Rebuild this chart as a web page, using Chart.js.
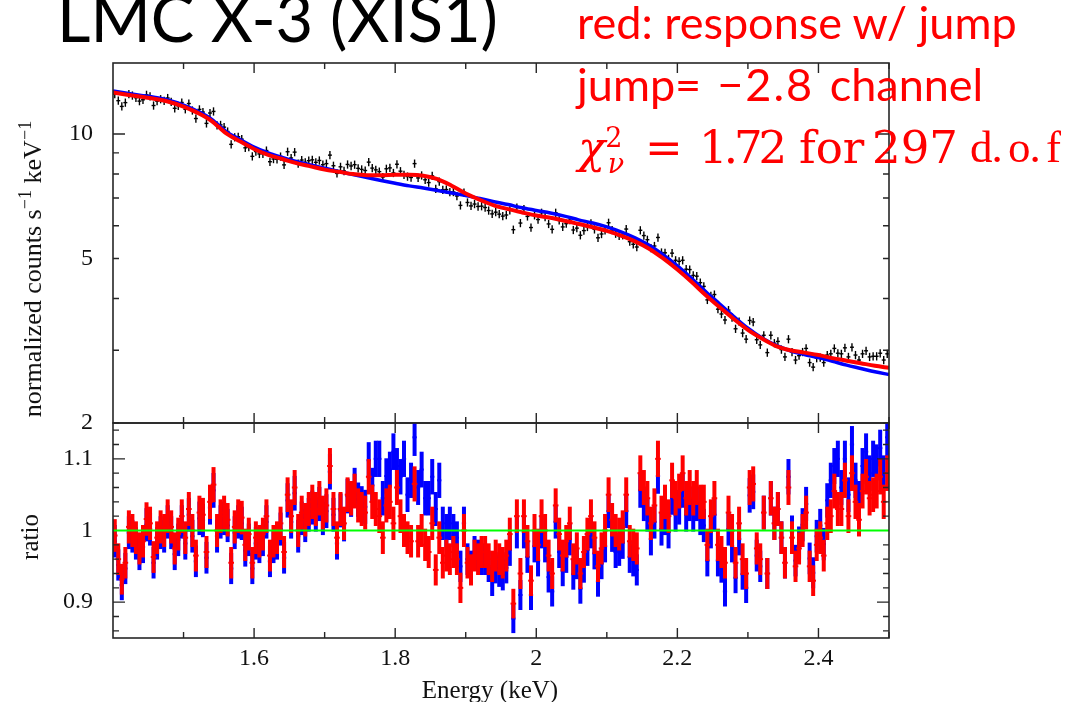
<!DOCTYPE html>
<html>
<head>
<meta charset="utf-8">
<script src="https://cdn.jsdelivr.net/npm/chart.js@4.4.1/dist/chart.umd.min.js"></script>
<style>
  html, body { margin: 0; padding: 0; background: #fff; }
  #wrap { position: relative; width: 1086px; height: 702px; overflow: hidden; background: #fff; }
  canvas { position: absolute; left: 0; }
  .lbl { position: absolute; white-space: nowrap; line-height: 1; }
  .lbl sup, .lbl sub { line-height: 0; }
  .title { left: 57px; top: -22px; font: 65px Lato, sans-serif; color: #000; }
  .note { left: 577px; font: 45px Lato, sans-serif; color: #ff0000; }
  .chi { left: 0; top: 121px; width: 1086px; height: 60px; font: 45px "DejaVu Serif", serif; color: #ff0000; }
  .chi span { position: absolute; top: 0; }
  .axt { font: 25px "Liberation Serif", serif; color: #111; }
  .rot { transform: translate(-50%, -50%) rotate(-90deg); }
</style>
</head>
<body>
<div id="wrap">
  <canvas id="spec" width="1086" height="440" style="top:0"></canvas>
  <canvas id="ratio" width="1086" height="302" style="top:400px"></canvas>

  <div class="lbl title">LMC X-3 (XIS1)</div>
  <div class="lbl note" style="top:-5px">red: response w/ jump</div>
  <div class="lbl note" style="top:57px">jump=<span style="margin-left:16px;margin-right:4px;letter-spacing:2px">−2.8</span> channel</div>
  <div class="lbl chi">
    <span style="left:578px"><i>χ</i><sup style="font-size:0.6em">2</sup><sub style="font-size:0.6em;margin-left:-0.55em"><i>ν</i></sub></span>
    <span style="left:645px">=</span>
    <span style="left:699px; letter-spacing:-4px">1.72</span>
    <span style="left:799px">for</span>
    <span style="left:872px">297</span>
    <span style="left:970px; font:45px 'Liberation Serif', serif; letter-spacing:-1px; word-spacing:-4px">d. o. f</span>
  </div>

  <div class="lbl axt rot" style="left:33px; top:269px; font-size:26px">normalized counts s<sup style="font-size:0.7em">−1</sup> keV<sup style="font-size:0.7em">−1</sup></div>
  <div class="lbl axt rot" style="left:30px; top:537px">ratio</div>
  <div class="lbl axt" style="left:490px; top:676px; transform:translateX(-50%)">Energy (keV)</div>
</div>

<script>
// ── channel grid (bin centres) and model grid ──
const binLo = 1.4, binWidth = 0.005;
const modelLo = 1.4, modelStep = 0.02;
const relErr = 0.023;

// tick labels
const energyTicks = [1.6, 1.8, 2, 2.2, 2.4];
const countTicks = [2, 5, 10];
const ratioTicks = [0.9, 1, 1.1];

// normalized counts s^-1 keV^-1 per channel (black crosses)
const counts = [
  12.49, 12.04, 11.66, 11.91, 12.49, 12.39, 12.24, 12.01, 12.10, 12.44,
  12.33, 11.72, 12.01, 12.14, 12.03, 12.22, 11.97, 11.54, 11.70, 11.92,
  11.48, 11.85, 11.40, 10.90, 11.47, 11.30, 10.61, 11.24, 11.34, 10.49,
  10.52, 10.39, 10.14, 9.44, 9.82, 9.85, 9.72, 9.26, 9.30, 8.83,
  9.07, 8.95, 8.96, 9.12, 8.57, 8.70, 8.69, 8.82, 8.42, 9.06,
  8.75, 9.04, 8.48, 8.65, 8.54, 8.62, 8.66, 8.54, 8.63, 8.43,
  8.48, 8.89, 8.38, 8.03, 8.33, 8.14, 8.44, 8.37, 8.43, 8.26,
  8.21, 8.16, 8.55, 8.27, 8.19, 8.11, 7.87, 8.24, 8.28, 8.05,
  8.45, 8.13, 7.97, 7.89, 7.85, 8.48, 7.83, 7.94, 7.75, 7.63,
  7.92, 7.37, 7.67, 7.33, 7.34, 7.24, 7.24, 7.08, 6.72, 7.22,
  6.83, 6.70, 6.77, 6.68, 6.69, 6.64, 6.53, 6.41, 6.47, 6.40,
  6.33, 6.37, 6.54, 5.87, 6.64, 6.09, 6.58, 6.32, 5.94, 6.36,
  6.21, 6.45, 6.30, 6.06, 5.88, 6.45, 6.18, 5.96, 6.07, 6.19,
  5.86, 5.92, 5.69, 5.84, 5.96, 6.08, 5.88, 5.61, 5.73, 5.85,
  6.10, 5.86, 5.74, 5.67, 5.69, 5.89, 5.49, 5.41, 5.33, 5.85,
  5.68, 5.55, 5.30, 5.36, 5.62, 5.17, 5.16, 4.99, 5.15, 4.95,
  4.92, 4.95, 4.71, 4.70, 4.55, 4.53, 4.37, 4.28, 3.97, 4.06,
  4.09, 3.77, 3.67, 3.55, 3.75, 3.60, 3.38, 3.52, 3.30, 3.19,
  3.54, 3.51, 3.18, 3.09, 3.26, 2.96, 3.26, 3.12, 3.15, 3.01,
  2.89, 3.19, 2.97, 2.84, 2.91, 2.97, 3.03, 2.80, 2.73, 2.87,
  2.88, 2.80, 2.92, 2.94, 3.03, 2.95, 2.94, 3.04, 2.89, 3.05,
  2.92, 2.84, 2.94, 2.99, 2.89, 2.90, 2.90, 2.95, 2.84, 2.94
];

// data / model, response with jump (red)
const ratioRed = [
  0.993, 0.96, 0.932, 0.955, 1.005, 1.0, 0.99, 0.975, 0.985, 1.016,
  1.01, 0.963, 0.99, 1.005, 1.0, 1.02, 1.005, 0.975, 0.995, 1.02,
  0.99, 1.03, 1.0, 0.965, 1.025, 1.022, 0.97, 1.04, 1.064, 1.0,
  1.02, 1.025, 1.015, 0.955, 1.005, 1.02, 1.018, 0.98, 0.995, 0.955,
  0.99, 0.985, 0.995, 1.02, 0.965, 0.985, 0.99, 1.01, 0.97, 1.05,
  1.02, 1.06, 1.0, 1.025, 1.015, 1.03, 1.04, 1.03, 1.045, 1.025,
  1.035, 1.09, 1.03, 0.99, 1.03, 1.01, 1.05, 1.045, 1.055, 1.035,
  1.03, 1.025, 1.075, 1.04, 1.03, 1.02, 0.99, 1.035, 1.04, 1.01,
  1.06, 1.02, 1.0, 0.99, 0.985, 1.065, 0.985, 1.0, 0.98, 0.97,
  1.01, 0.945, 0.99, 0.955, 0.965, 0.96, 0.97, 0.96, 0.92, 1.0,
  0.955, 0.945, 0.965, 0.96, 0.97, 0.97, 0.96, 0.95, 0.965, 0.96,
  0.955, 0.965, 0.995, 0.898, 1.02, 0.94, 1.02, 0.985, 0.93, 1.0,
  0.98, 1.02, 1.0, 0.965, 0.94, 1.035, 0.995, 0.965, 0.985, 1.01,
  0.96, 0.975, 0.94, 0.97, 0.995, 1.02, 0.99, 0.95, 0.975, 1.0,
  1.05, 1.015, 1.0, 0.995, 1.005, 1.05, 0.985, 0.98, 0.975, 1.08,
  1.06, 1.045, 1.01, 1.035, 1.1, 1.025, 1.04, 1.02, 1.07, 1.045,
  1.055, 1.08, 1.045, 1.06, 1.045, 1.06, 1.04, 1.04, 0.98, 1.02,
  1.045, 0.98, 0.97, 0.955, 1.025, 1.0, 0.955, 1.01, 0.96, 0.94,
  1.06, 1.065, 0.975, 0.96, 1.025, 0.94, 1.045, 1.01, 1.03, 0.99,
  0.955, 1.06, 0.99, 0.95, 0.975, 1.0, 1.025, 0.95, 0.93, 0.98,
  0.99, 0.965, 1.01, 1.02, 1.055, 1.03, 1.03, 1.07, 1.02, 1.08,
  1.04, 1.015, 1.055, 1.075, 1.045, 1.05, 1.055, 1.075, 1.04, 1.08
];

// data / model, original response (blue)
const ratioBlue = [
  0.985, 0.952, 0.924, 0.947, 0.997, 0.992, 0.982, 0.967, 0.977, 1.008,
  1.002, 0.955, 0.982, 0.997, 0.992, 1.012, 0.997, 0.967, 0.987, 1.012,
  0.982, 1.022, 0.992, 0.957, 1.017, 1.014, 0.962, 1.032, 1.056, 0.992,
  1.012, 1.017, 1.007, 0.947, 0.997, 1.012, 1.01, 0.972, 0.987, 0.947,
  0.982, 0.977, 0.987, 1.012, 0.957, 0.977, 0.982, 1.002, 0.962, 1.042,
  1.012, 1.052, 0.992, 1.017, 1.007, 1.022, 1.032, 1.022, 1.037, 1.017,
  1.027, 1.082, 1.022, 0.982, 1.028, 1.008, 1.048, 1.043, 1.063, 1.043,
  1.038, 1.033, 1.098, 1.063, 1.1, 1.1, 1.045, 1.076, 1.085, 1.11,
  1.09, 1.075, 1.1, 1.05, 1.07, 1.13, 1.06, 1.085, 1.045, 1.045,
  1.075, 1.03, 1.07, 1.01, 1.0, 1.01, 1.0, 0.99, 0.95, 1.01,
  0.96, 0.95, 0.97, 0.965, 0.96, 0.96, 0.95, 0.93, 0.948, 0.943,
  0.938, 0.948, 0.973, 0.877, 0.998, 0.91, 0.998, 0.963, 0.91, 0.978,
  0.958, 0.998, 0.978, 0.935, 0.915, 1.012, 0.97, 0.944, 0.963, 0.988,
  0.939, 0.954, 0.919, 0.949, 0.973, 0.998, 0.968, 0.929, 0.954, 0.978,
  1.027, 0.993, 0.97, 0.973, 0.983, 1.027, 0.963, 0.958, 0.945, 1.056,
  1.037, 1.022, 0.988, 1.012, 1.076, 1.002, 1.017, 0.998, 1.046, 1.022,
  1.032, 1.056, 1.022, 1.037, 1.022, 1.037, 1.017, 1.007, 0.958, 0.998,
  1.022, 0.958, 0.949, 0.915, 1.002, 0.978, 0.934, 0.988, 0.939, 0.92,
  1.049, 1.054, 0.965, 0.95, 1.025, 0.94, 1.045, 1.01, 1.03, 0.99,
  0.955, 1.075, 0.998, 0.958, 0.983, 1.008, 1.037, 0.961, 0.941, 0.992,
  1.007, 0.981, 1.042, 1.07, 1.09, 1.1, 1.06, 1.1, 1.05, 1.12,
  1.07, 1.045, 1.09, 1.11, 1.08, 1.1, 1.095, 1.115, 1.08, 1.13
];

// folded models on the 0.02 keV grid
const modelRed = [
  12.6, 12.45, 12.3, 12.15, 11.95, 11.65, 11.25, 10.75, 10.05, 9.6,
  9.2, 8.9, 8.7, 8.5, 8.35, 8.2, 8.1, 8.0, 7.95, 7.95,
  7.97, 7.97, 7.93, 7.78, 7.5, 7.18, 6.93, 6.72, 6.58, 6.46,
  6.35, 6.27, 6.17, 6.06, 5.95, 5.83, 5.68, 5.5, 5.28, 5.0,
  4.7, 4.39, 4.08, 3.81, 3.57, 3.36, 3.2, 3.07, 3.0, 2.96,
  2.92, 2.87, 2.83, 2.79, 2.75, 2.72
];
const modelBlue = [
  12.7, 12.55, 12.4, 12.25, 12.05, 11.75, 11.35, 10.85, 10.15, 9.7,
  9.3, 9.0, 8.78, 8.58, 8.42, 8.26, 8.12, 7.98, 7.85, 7.72,
  7.6, 7.49, 7.4, 7.3, 7.2, 7.1, 6.98, 6.86, 6.75, 6.63,
  6.53, 6.44, 6.33, 6.2, 6.09, 5.96, 5.8, 5.61, 5.38, 5.1,
  4.8, 4.48, 4.16, 3.88, 3.62, 3.39, 3.21, 3.08, 2.99, 2.93,
  2.88, 2.82, 2.76, 2.71, 2.66, 2.62
];

const binCentre = (i) => +(binLo + binWidth * (i + 0.5)).toFixed(4);
const modelE = (i) => +(modelLo + modelStep * i).toFixed(2);

const FRAME = '#262626';
const TICK_FONT = { family: "'Liberation Serif', serif", size: 24 };

// keep the plot box exactly where the layout padding puts it
function pinAxis(size) {
  return (s) => {
    if (s.isHorizontal()) s.height = size; else s.width = size;
    s.paddingTop = 0; s.paddingBottom = 0; s.paddingLeft = 0; s.paddingRight = 0;
  };
}

// error bars: vertical bar + horizontal bin mark, drawn right after each dataset
const errorBars = {
  id: 'errorBars',
  afterDatasetDraw(chart, args) {
    const ds = chart.data.datasets[args.index];
    if (!ds.errBar) return;
    const { ctx, chartArea: a, scales: { x, y } } = chart;
    const eb = ds.errBar;
    ctx.save();
    ctx.beginPath();
    ctx.rect(a.left, a.top, a.right - a.left, a.bottom - a.top);
    ctx.clip();
    ctx.strokeStyle = ds.borderColor;
    ctx.lineCap = 'butt';
    ds.data.forEach((p) => {
      const px = x.getPixelForValue(p.x);
      const py = y.getPixelForValue(p.y);
      ctx.lineWidth = eb.vWidth;
      ctx.beginPath();
      ctx.moveTo(px, y.getPixelForValue(p.y - p.e));
      ctx.lineTo(px, y.getPixelForValue(p.y + p.e));
      ctx.stroke();
      ctx.lineWidth = eb.hWidth;
      ctx.beginPath();
      ctx.moveTo(x.getPixelForValue(p.x - eb.half), py);
      ctx.lineTo(x.getPixelForValue(p.x + eb.half), py);
      ctx.stroke();
    });
    ctx.restore();
  }
};

// box frame with inward ticks on all four sides
const frame = {
  id: 'frame',
  afterDraw(chart, args, o) {
    const { ctx, chartArea: a, scales: { x, y } } = chart;
    ctx.save();
    ctx.strokeStyle = FRAME;
    ctx.lineWidth = 1.6;
    ctx.strokeRect(a.left, a.top, a.right - a.left, a.bottom - a.top);
    ctx.lineWidth = 1.4;
    const xt = (vals, len) => vals.forEach((v) => {
      const px = x.getPixelForValue(v);
      ctx.beginPath();
      ctx.moveTo(px, a.top); ctx.lineTo(px, a.top + len);
      ctx.moveTo(px, a.bottom); ctx.lineTo(px, a.bottom - len);
      ctx.stroke();
    });
    const yt = (vals, len) => vals.forEach((v) => {
      const py = y.getPixelForValue(v);
      ctx.beginPath();
      ctx.moveTo(a.left, py); ctx.lineTo(a.left + len, py);
      ctx.moveTo(a.right, py); ctx.lineTo(a.right - len, py);
      ctx.stroke();
    });
    xt(o.xMajor, 10); xt(o.xMinor, 6);
    yt(o.yMajor, 12); yt(o.yMinor, 6);
    ctx.restore();
  }
};

const xMinor = [1.5, 1.7, 1.9, 2.1, 2.3, 2.5];

const baseOptions = {
  responsive: false,
  animation: false,
  events: [],
  devicePixelRatio: 1,
};

new Chart(document.getElementById('spec').getContext('2d'), {
  type: 'scatter',
  data: {
    datasets: [
      {
        label: 'model (jump)',
        type: 'line',
        data: modelRed.map((v, i) => ({ x: modelE(i), y: v })),
        borderColor: '#ff0000',
        borderWidth: 4,
        pointRadius: 0,
        cubicInterpolationMode: 'monotone',
        order: 1,
      },
      {
        label: 'model',
        type: 'line',
        data: modelBlue.map((v, i) => ({ x: modelE(i), y: v })),
        borderColor: '#0000ff',
        borderWidth: 3.5,
        pointRadius: 0,
        cubicInterpolationMode: 'monotone',
        order: 2,
      },
      {
        label: 'data',
        data: counts.map((c, i) => ({ x: binCentre(i), y: c, e: c * relErr })),
        borderColor: '#000000',
        pointRadius: 0,
        errBar: { vWidth: 1.4, hWidth: 1.4, half: 0.0028 },
        order: 3,
      },
    ],
  },
  options: {
    ...baseOptions,
    layout: { padding: { top: 63, right: 197, bottom: 17, left: 0 } },
    plugins: {
      legend: { display: false },
      tooltip: { enabled: false },
      frame: { xMajor: energyTicks, xMinor, yMajor: [10], yMinor: [2, 3, 4, 5, 6, 7, 8, 9] },
    },
    scales: {
      x: { type: 'linear', min: 1.4, max: 2.5, display: false },
      y: {
        type: 'logarithmic',
        min: 2,
        max: 14.85,
        afterFit: pinAxis(113),
        afterBuildTicks: (s) => { s.ticks = countTicks.map((v) => ({ value: v })); },
        grid: { display: false, drawTicks: false },
        border: { display: false },
        ticks: {
          autoSkip: false,
          padding: 20,
          color: '#111',
          font: TICK_FONT,
          callback: (v) => String(v),
        },
      },
    },
  },
  plugins: [errorBars, frame],
});

new Chart(document.getElementById('ratio').getContext('2d'), {
  type: 'scatter',
  data: {
    datasets: [
      {
        label: 'unity',
        type: 'line',
        data: [{ x: 1.4, y: 1 }, { x: 2.5, y: 1 }],
        borderColor: '#00ff00',
        borderWidth: 2,
        pointRadius: 0,
        order: 0,
      },
      {
        label: 'ratio (jump)',
        data: ratioRed.map((r, i) => ({ x: binCentre(i), y: r, e: r * relErr })),
        borderColor: '#ff0000',
        pointRadius: 0,
        errBar: { vWidth: 4, hWidth: 2, half: 0.004 },
        order: 1,
      },
      {
        label: 'ratio',
        data: ratioBlue.map((r, i) => ({ x: binCentre(i), y: r, e: r * relErr })),
        borderColor: '#0000ff',
        pointRadius: 0,
        errBar: { vWidth: 4, hWidth: 2, half: 0.003 },
        order: 2,
      },
    ],
  },
  options: {
    ...baseOptions,
    layout: { padding: { top: 23, right: 197, bottom: 0, left: 0 } },
    plugins: {
      legend: { display: false },
      tooltip: { enabled: false },
      frame: {
        xMajor: energyTicks, xMinor,
        // the tick at 1 sits under the green unity line
        yMajor: [0.9, 1.1],
        yMinor: [0.86, 0.88, 0.92, 0.94, 0.96, 0.98, 1.02, 1.04, 1.06, 1.08, 1.12, 1.14],
      },
    },
    scales: {
      x: {
        type: 'linear',
        min: 1.4,
        max: 2.5,
        afterFit: pinAxis(64),
        afterBuildTicks: (s) => { s.ticks = energyTicks.map((v) => ({ value: v })); },
        grid: { display: false, drawTicks: false },
        border: { display: false },
        ticks: {
          autoSkip: false,
          maxRotation: 0,
          padding: 6,
          color: '#111',
          font: TICK_FONT,
          callback: (v) => String(v),
        },
      },
      y: {
        type: 'linear',
        min: 0.85,
        max: 1.15,
        afterFit: pinAxis(113),
        afterBuildTicks: (s) => { s.ticks = ratioTicks.map((v) => ({ value: v })); },
        grid: { display: false, drawTicks: false },
        border: { display: false },
        ticks: {
          autoSkip: false,
          padding: 20,
          color: '#111',
          font: TICK_FONT,
          callback: (v) => String(v),
        },
      },
    },
  },
  plugins: [errorBars, frame],
});
</script>
</body>
</html>
